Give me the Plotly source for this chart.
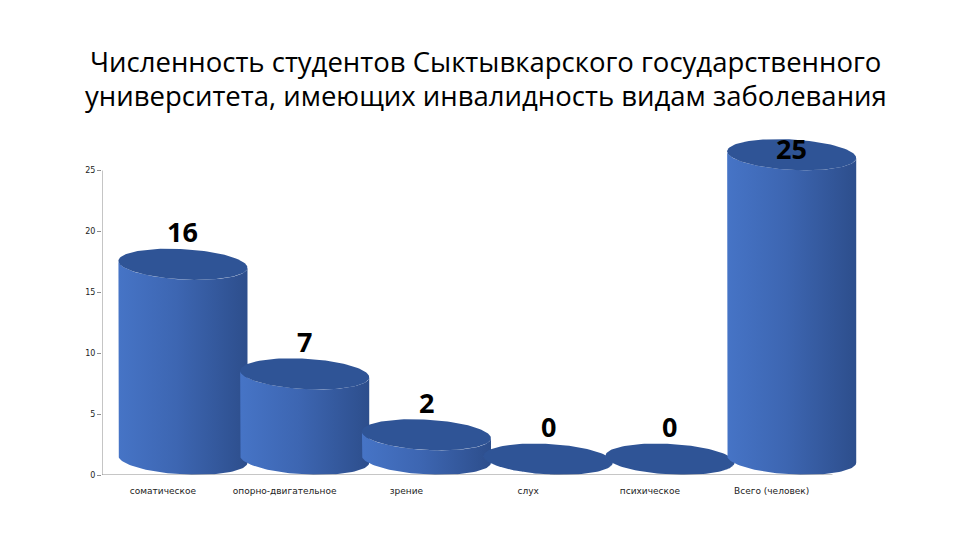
import numpy as np
import plotly.graph_objects as go

# ---- data ----
categories = ["соматическое", "опорно-двигательное", "зрение", "слух", "психическое", "Всего (человек)"]
values = [16, 7, 2, 0, 0, 25]
y_ticks = [0, 5, 10, 15, 20, 25]
title_lines = ["Численность студентов Сыктывкарского государственного",
               "университета, имеющих инвалидность видам заболевания"]

# ---- style constants (3D cylinder look) ----
DX = 0.165        # perspective shift of cylinders (category units)
DEPTH = 1.3       # perspective shift of cylinders (value units)
HALF_W = 0.53     # half width of a cylinder (category units)
EB = 1.25         # ellipse semi-minor axis (value units)
TILT = 0.28       # slight tilt of ellipses (value units)
BODY_SCALE = [[0, "#4674C6"], [0.45, "#3D66B2"], [1, "#2D4E8C"]]
TOP_COLOR = "#2F5496"

fig = go.Figure()
t = np.linspace(0, np.pi, 60)

for i, v in enumerate(values):
    xc = i + DX
    y_bot = DEPTH
    y_top = v + DEPTH
    xs_low = xc - HALF_W * np.cos(t)
    shear = TILT * (xs_low - xc) / HALF_W
    bot_y = y_bot - EB * np.sin(t) - shear
    top_front_y = y_top - EB * np.sin(t) - shear
    bx = np.concatenate([[xc - HALF_W], xs_low, xs_low[::-1]])
    by = np.concatenate([[y_top + TILT], bot_y, top_front_y[::-1]])
    fig.add_trace(go.Scatter(
        x=bx, y=by, mode="lines", fill="toself",
        line=dict(width=0, color="rgba(0,0,0,0)"),
        fillgradient=dict(type="horizontal", colorscale=BODY_SCALE),
        hoverinfo="skip", showlegend=False))
    tt = np.linspace(0, 2 * np.pi, 120)
    ex = xc - HALF_W * np.cos(tt)
    ey = y_top - EB * np.sin(tt) - TILT * (ex - xc) / HALF_W
    fig.add_trace(go.Scatter(
        x=ex, y=ey, mode="lines", fill="toself",
        line=dict(width=0, color="rgba(0,0,0,0)"),
        fillcolor=TOP_COLOR, hoverinfo="skip", showlegend=False))
    label_y = min(y_top + EB, 25 + DEPTH)
    fig.add_annotation(x=xc, y=label_y, text=str(v), showarrow=False,
                       xref="x", yref="y", yanchor="bottom", yshift=-3 if v < 25 else -14,
                       font=dict(family="Open Sans", size=27, color="#000000", weight="bold"))

# title (two lines with tight line spacing)
for k, line in enumerate(title_lines):
    fig.add_annotation(x=0.5, xref="paper", y=1.214 - 0.1025 * k, yref="paper",
                       xanchor="center", yanchor="middle", text=line, showarrow=False,
                       font=dict(family="Open Sans", size=27.5, color="#000000"))

fig.add_shape(type="line", xref="x", yref="y", x0=-0.5, x1=5.5, y0=0, y1=0,
              line=dict(color="#8c8c8c", width=1))
fig.add_shape(type="line", xref="x", yref="y", x0=-0.5, x1=-0.5, y0=0, y1=max(y_ticks),
              line=dict(color="#8c8c8c", width=1))

fig.update_layout(
    width=960, height=540,
    paper_bgcolor="white", plot_bgcolor="white",
    margin=dict(l=94, r=99, t=126, b=73),
    showlegend=False,
)
fig.update_xaxes(range=[-0.5, 5.8], tickvals=list(range(len(categories))), ticktext=categories,
                 showgrid=False, zeroline=False, showline=False, ticks="",
                 ticklabelstandoff=9,
                 tickfont=dict(family="DejaVu Sans", size=9, color="#222222"))
fig.update_yaxes(range=[0, 28], tickvals=y_ticks, showgrid=False, zeroline=False, showline=False,
                 ticks="outside", ticklen=4, tickcolor="#8c8c8c",
                 tickfont=dict(family="DejaVu Sans", size=8, color="#222222"))

fig.write_html("out.html")
